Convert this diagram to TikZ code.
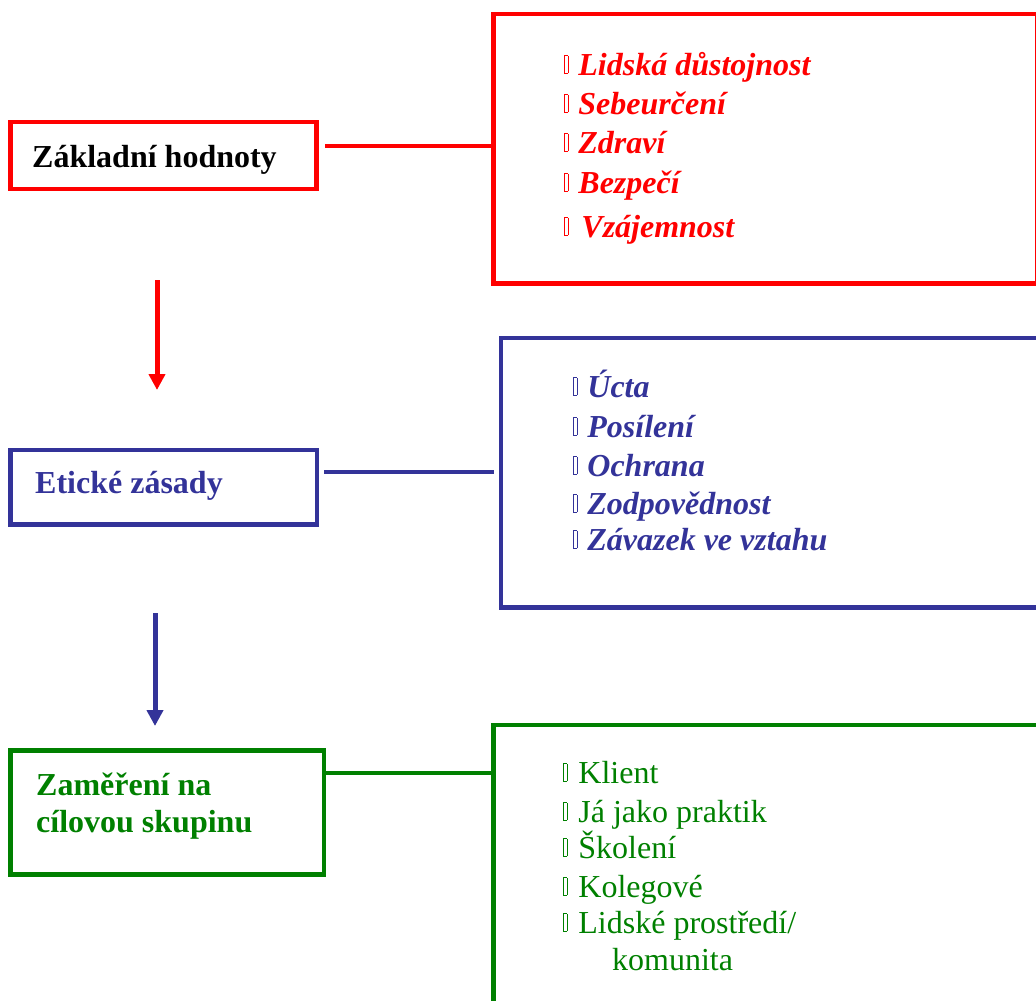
\documentclass[tikz,border=0pt]{standalone}
\usepackage{fontspec}
\setmainfont{Liberation Serif}
\usetikzlibrary{arrows.meta}
\definecolor{cred}{HTML}{FF0000}
\definecolor{cblue}{HTML}{333399}
\definecolor{cgreen}{HTML}{008000}
\newcommand\tofu{\raisebox{2pt}{\fboxsep=0pt\fboxrule=0.7pt\fbox{\rule{0pt}{17pt}\rule{2.8pt}{0pt}}}}
\tikzset{
  box/.style={draw, line width=4.6pt, rectangle, inner sep=0pt, outer sep=0pt, anchor=north west},
  lbl/.style={anchor=base west, inner sep=0pt, font=\fontsize{32}{38}\selectfont\bfseries},
  itemb/.style={anchor=base west, inner sep=0pt, font=\fontsize{32}{38}\selectfont\bfseries\itshape},
  itemr/.style={anchor=base west, inner sep=0pt, font=\fontsize{32}{38}\selectfont},
  conn/.style={line width=4.6pt},
  flow/.style={line width=5pt, -{Triangle[width=16pt,length=16pt]}},
}
\begin{document}
\begin{tikzpicture}[x=1pt,y=-1pt]
\useasboundingbox (0,0) rectangle (1036,1001);
\clip (0,0) rectangle (1036,1001);
% left boxes
\node[box, cred, minimum width=306pt, minimum height=67pt] (b1) at (10.5,122) {};
\node[box, cblue, minimum width=306.5pt, minimum height=74.5pt] (b2) at (10.5,450) {};
\node[box, cgreen, minimum width=313.5pt, minimum height=124pt] (b3) at (10.5,750.5) {};
% right boxes
\node[box, cred, minimum width=543.8pt, minimum height=269.5pt] (r1) at (493.5,14) {};
\node[box, cblue, minimum width=600pt, minimum height=269.5pt] (r2) at (501,338) {};
\node[box, cgreen, minimum width=600pt, minimum height=400pt] (r3) at (493.5,725) {};
% labels
\node[lbl, black] (t1) at (32,167) {Základní hodnoty};
\node[lbl, cblue] (t2) at (35,493) {Etické zásady};
\node[lbl, cgreen] (t3a) at (36,795) {Zaměření na};
\node[lbl, cgreen] (t3b) at (36,832) {cílovou skupinu};
% connectors
\coordinate (c1) at (0,146);
\coordinate (c2) at (0,472);
\coordinate (c3) at (0,773);
\draw[conn, cred] ([xshift=8.5pt]b1.east |- c1) -- (r1.west |- c1);
\draw[conn, cblue] ([xshift=7pt]b2.east |- c2) -- ([xshift=-7pt]r2.west |- c2);
\draw[conn, cgreen] (b3.east |- c3) -- (r3.west |- c3);
% flow arrows
\coordinate (a1s) at (157,280);
\coordinate (a1e) at (157,390);
\coordinate (a2s) at (155,613);
\coordinate (a2e) at (155,726);
\draw[flow, cred] (a1s) -- (a1e);
\draw[flow, cblue] (a2s) -- (a2e);
% red items
\node[itemb, cred] (i11) at (564,75) {\tofu\hspace{10pt}Lidská důstojnost};
\node[itemb, cred] (i12) at (564,114) {\tofu\hspace{10pt}Sebeurčení};
\node[itemb, cred] (i13) at (564,153) {\tofu\hspace{10pt}Zdraví};
\node[itemb, cred] (i14) at (564,193) {\tofu\hspace{10pt}Bezpečí};
\node[itemb, cred] (i15) at (564,237) {\tofu\hspace{13pt}Vzájemnost};
% blue items
\node[itemb, cblue] (i21) at (573,397) {\tofu\hspace{10pt}Úcta};
\node[itemb, cblue] (i22) at (573,437) {\tofu\hspace{10pt}Posílení};
\node[itemb, cblue] (i23) at (573,476) {\tofu\hspace{10pt}Ochrana};
\node[itemb, cblue] (i24) at (573,514) {\tofu\hspace{10pt}Zodpovědnost};
\node[itemb, cblue] (i25) at (573,550) {\tofu\hspace{10pt}Závazek ve vztahu};
% green items
\node[itemr, cgreen] (i31) at (563,783) {\tofu\hspace{11pt}Klient};
\node[itemr, cgreen] (i32) at (563,822) {\tofu\hspace{11pt}Já jako praktik};
\node[itemr, cgreen] (i33) at (563,858) {\tofu\hspace{11pt}Školení};
\node[itemr, cgreen] (i34) at (563,897) {\tofu\hspace{11pt}Kolegové};
\node[itemr, cgreen] (i35) at (563,933) {\tofu\hspace{11pt}Lidské prostředí/};
\node[itemr, cgreen] (i36) at (612,970) {komunita};
\end{tikzpicture}
\end{document}
